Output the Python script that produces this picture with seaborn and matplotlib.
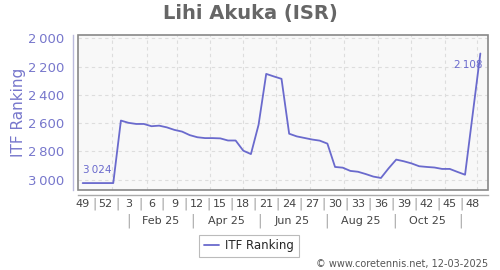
import matplotlib
matplotlib.use("Agg")
import matplotlib.pyplot as plt
import matplotlib.transforms as mtransforms
from matplotlib.patches import Rectangle
import seaborn as sns
import pandas as pd

# ---- data ----
title = "Lihi Akuka (ISR)"
series_name = "ITF Ranking"
# week index: 0 = week 49 of 2024, 4 = week 1 of 2025, 52 = week 49 of 2025
weeks = [0, 1, 2, 3, 4, 5, 6, 7, 8, 9, 10, 11, 12, 13, 14, 15, 16, 17, 18, 19,
         20, 21, 22, 23, 24, 25, 26, 27, 28, 29, 30, 31, 32, 33, 34, 35, 36, 37,
         38, 39, 40, 41, 42, 43, 44, 45, 46, 47, 48, 49, 50, 52]
ranking = [3024, 3024, 3024, 3024, 3024, 2582, 2598, 2606, 2606, 2622, 2618, 2630,
           2648, 2660, 2685, 2700, 2706, 2706, 2708, 2723, 2723, 2795, 2819, 2612,
           2252, 2270, 2287, 2675, 2694, 2705, 2716, 2724, 2745, 2910, 2915, 2938,
           2944, 2960, 2978, 2988, 2920, 2858, 2870, 2885, 2905, 2910, 2914, 2924,
           2924, 2945, 2965, 2108]
week_tick_pos = [0, 3, 6, 9, 12, 15, 18, 21, 24, 27, 30, 33, 36, 39, 42, 45, 48, 51]
week_tick_labels = ["49", "52", "3", "6", "9", "12", "15", "18", "21", "24", "27",
                    "30", "33", "36", "39", "42", "45", "48"]
month_labels = ["Feb 25", "Apr 25", "Jun 25", "Aug 25", "Oct 25"]
month_label_pos = [10.2, 18.8, 27.4, 36.3, 45.1]
month_sep_pos = [5.94, 14.4, 23.1, 31.9, 40.75, 49.4]
month_grid_pos = [3.8, 8.4, 12.3, 16.7, 21.0, 25.3, 29.7, 34.2, 38.6, 42.9, 47.4, 51.6]
y_ticks = [2000, 2200, 2400, 2600, 2800, 3000]
y_tick_labels = ["2\u2009000", "2\u2009200", "2\u2009400", "2\u2009600", "2\u2009800", "3\u2009000"]
first_label = "3\u2009024"
last_label = "2\u2009108"
credit = "\u00a9 www.coretennis.net, 12-03-2025"

df = pd.DataFrame({"week": weeks, "rank": ranking, "series": series_name})

LINE = "#6a6acd"
AXIS_BLUE = "#7777cc"

sns.set_style("white")
plt.rcParams["font.family"] = ["DejaVu Sans"]

fig = plt.figure(figsize=(5, 2.7), dpi=100)
ax = fig.add_axes([78 / 500, 1 - 190 / 270, 410 / 500, 155 / 270])
ax.set_facecolor("#f8f8f8")

sns.lineplot(data=df, x="week", y="rank", hue="series", palette=[LINE],
             linewidth=1.3, ax=ax, legend=True)

ax.set_xlim(-0.61, 53.0)
ax.set_ylim(3073, 1977)

# frame
for s in ["top", "right"]:
    ax.spines[s].set_visible(False)
ax.add_patch(Rectangle((0, 0), 1, 1, transform=ax.transAxes, fill=False,
                       edgecolor="#888888", linewidth=1.2, zorder=5, clip_on=False))
ax.spines["left"].set_position(("outward", 3.6))
ax.spines["left"].set_color("#bbbbdd")
ax.spines["left"].set_linewidth(1.0)
ax.spines["bottom"].set_position(("outward", 3.6))
ax.spines["bottom"].set_color("#aaaaaa")
ax.spines["bottom"].set_linewidth(1.0)

# y axis
ax.set_yticks(y_ticks)
ax.set_yticklabels(y_tick_labels, color=AXIS_BLUE, fontsize=9.5)
ax.tick_params(axis="y", length=3, width=0.8, color="#bbbbdd", pad=3)
ax.set_ylabel("ITF Ranking", color=AXIS_BLUE, fontsize=11, labelpad=4)
ax.yaxis.set_label_coords(-0.128, 0.5)

# grid
ax.set_xticks(month_grid_pos)
ax.set_xticklabels([])
ax.tick_params(axis="x", length=3, width=0.8, color="#cccccc", direction="in")
ax.grid(True, color="#dddddd", linestyle=(0, (3, 3)), linewidth=0.8)
ax.set_xlabel("")

# week labels with separators
trans = mtransforms.blended_transform_factory(ax.transData, fig.transFigure)
WEEK_Y = 1 - 204 / 270
MONTH_Y = 1 - 221 / 270
for p, lab in zip(week_tick_pos, week_tick_labels):
    ax.text(p, WEEK_Y, lab, transform=trans, ha="center", va="center",
            fontsize=8, color="#444444")
for p in week_tick_pos[:-1]:
    ax.text(p + 1.5, WEEK_Y, "|", transform=trans, ha="center", va="center",
            fontsize=9, color="#999999")
for p, lab in zip(month_label_pos, month_labels):
    ax.text(p, MONTH_Y, lab, transform=trans, ha="center", va="center",
            fontsize=8, color="#444444")
for p in month_sep_pos:
    ax.text(p, MONTH_Y, "|", transform=trans, ha="center", va="center",
            fontsize=10, color="#aaaaaa")

# value annotations
ax.annotate(first_label, (weeks[0], ranking[0]), xytext=(0, 6),
            textcoords="offset points", ha="left", va="bottom",
            fontsize=7.5, color=LINE)
ax.annotate(last_label, (weeks[-1], ranking[-1]), xytext=(1.5, -5),
            textcoords="offset points", ha="right", va="top",
            fontsize=7.5, color=LINE)

# title
fig.text(0.5, 1 - 14 / 270, title, ha="center", va="center", fontsize=14,
         fontweight="bold", color="#666666")

# legend
leg = ax.legend(loc="center", bbox_to_anchor=(249 / 500, 1 - 246 / 270),
                bbox_transform=fig.transFigure, frameon=True, fontsize=8.5,
                handlelength=1.3, handletextpad=0.5, borderpad=0.4,
                fancybox=False)
leg.get_frame().set_edgecolor("#aaaaaa")
leg.get_frame().set_linewidth(0.8)

fig.text(488 / 500, 1 - 264 / 270, credit, ha="right", va="center",
         fontsize=7, color="#555555")

fig.savefig("out.png", dpi=100)
